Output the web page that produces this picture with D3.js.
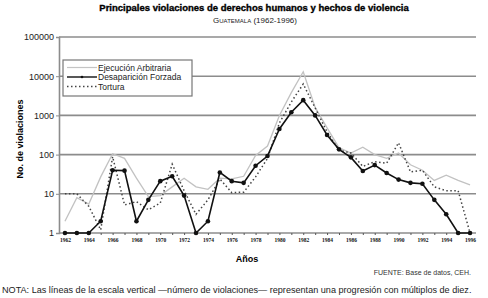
<!DOCTYPE html>
<html>
<head>
<meta charset="utf-8">
<script src="https://cdn.jsdelivr.net/npm/d3@7/dist/d3.min.js"></script>
<style>
  body { margin: 0; background: #fff; }
  svg { font-family: "Liberation Sans", Arial, sans-serif; }
</style>
</head>
<body>
<div id="chart"></div>
<script>
var years = d3.range(1962, 1997);
var tickYears = d3.range(1962, 1997, 2);
var yTicks = [1, 10, 100, 1000, 10000, 100000];

var ejecucion = [2, 8, 5.5, 27, 105, 80, 25, 8.5, 9, 15, 25, 15, 13, 25, 24, 28, 95, 165,
  1000, 3800, 13000, 1600, 480, 150, 110, 155, 100, 80, 110, 55, 40, 22, 30, 22, 17];
var desaparicion = [1, 1, 1, 2, 40, 39, 2, 7, 21, 28, 9, 1, 2, 35, 21, 19, 52, 92,
  450, 1200, 2450, 1000, 316, 136, 85, 38, 54, 34, 23, 19, 18, 7, 3, 1, 1];
var tortura = [10, 10, 4.8, 1.2, 88, 5.2, 6.3, 3.9, 5.8, 57, 12, 3, 7, 24, 10.7, 11, 27, 80,
  640, 2200, 6300, 1550, 380, 130, 110, 50, 66, 60, 200, 36, 40, 15, 12, 12, 1];

var seriesNames = ["Ejecución Arbitraria", "Desaparición Forzada", "Tortura"];

var width = 488, height = 298;
var margin = {left: 59, right: 12, top: 37, bottom: 65};

var svg = d3.select("#chart").append("svg")
  .attr("width", width)
  .attr("height", height);

var x = d3.scaleLinear().domain([1961.5, 1996.5]).range([margin.left, width - margin.right]);
var y = d3.scaleLog().domain([1, 100000]).range([height - margin.bottom, margin.top]);

// titles
svg.append("text")
  .attr("x", 254).attr("y", 11)
  .attr("text-anchor", "middle")
  .style("font-size", "9.5px").style("font-weight", "bold")
  .attr("stroke", "#000").attr("stroke-width", 0.35)
  .text("Principales violaciones de derechos humanos y hechos de violencia");

var sub = svg.append("text")
  .attr("x", 255).attr("y", 23)
  .attr("text-anchor", "middle")
  .style("font-size", "8px").attr("fill", "#222");
sub.append("tspan").text("G");
sub.append("tspan").style("font-size", "6px").text("UATEMALA");
sub.append("tspan").text(" (1962-1996)");

// grid lines
svg.append("g").selectAll("line")
  .data(yTicks)
  .enter().append("line")
  .attr("x1", margin.left).attr("x2", width - margin.right)
  .attr("y1", function(d) { return y(d); })
  .attr("y2", function(d) { return y(d); })
  .attr("stroke", "#8c8c8c")
  .attr("stroke-width", 1.6);

// y axis
var yaxis = d3.axisLeft(y)
  .tickValues(yTicks)
  .tickFormat(d3.format("d"))
  .tickSize(3).tickPadding(2);

var gy = svg.append("g")
  .attr("transform", "translate(" + margin.left + ",0)")
  .call(yaxis);
gy.select(".domain").attr("stroke", "#8c8c8c").attr("stroke-width", 1.6);
gy.selectAll(".tick line").attr("stroke", "#8c8c8c");
gy.selectAll("text").style("font-size", "9px").attr("fill", "#222").attr("font-family", "\"Liberation Sans\", Arial, sans-serif");

// x axis
var xaxis = d3.axisBottom(x)
  .tickValues(years)
  .tickFormat(function(d) { return d % 2 === 0 ? d : ""; })
  .tickSize(2).tickPadding(3);

var gx = svg.append("g")
  .attr("transform", "translate(0," + y(1) + ")")
  .call(xaxis);
gx.select(".domain").remove();
gx.selectAll(".tick line").attr("stroke", "#555");
gx.selectAll("text")
  .attr("font-family", "\"Liberation Serif\", serif")
  .style("font-size", "5.5px").style("font-weight", "bold").attr("fill", "#111");

// axis titles
svg.append("text")
  .attr("x", 247).attr("y", 262)
  .attr("text-anchor", "middle")
  .style("font-size", "9px").style("font-weight", "bold")
  .text("Años");

svg.append("text")
  .attr("transform", "translate(23," + 139 + ") rotate(-90)")
  .attr("text-anchor", "middle")
  .style("font-size", "9px").style("font-weight", "bold")
  .text("No. de violaciones");

// lines
var line = d3.line()
  .x(function(d, i) { return x(years[i]); })
  .y(function(d) { return y(d); });

svg.append("path")
  .datum(ejecucion)
  .attr("fill", "none")
  .attr("stroke", "#c2c2c2")
  .attr("stroke-width", 1.3)
  .attr("d", line);

svg.append("path")
  .datum(tortura)
  .attr("fill", "none")
  .attr("stroke", "#444")
  .attr("stroke-width", 1.5)
  .attr("stroke-dasharray", "1.5,2.5")
  .attr("d", line);

svg.append("path")
  .datum(desaparicion)
  .attr("fill", "none")
  .attr("stroke", "#111")
  .attr("stroke-width", 1.6)
  .attr("d", line);

svg.append("g").selectAll("circle")
  .data(desaparicion)
  .enter().append("circle")
  .attr("cx", function(d, i) { return x(years[i]); })
  .attr("cy", function(d) { return y(d); })
  .attr("r", 2.3)
  .attr("fill", "#111");

// legend
var legend = svg.append("g").attr("class", "legend");
legend.append("rect")
  .attr("x", 63).attr("y", 60)
  .attr("width", 129).attr("height", 36)
  .attr("fill", "#fff")
  .attr("stroke", "#777")
  .attr("stroke-width", 1.2);

var legStyles = [
  {stroke: "#c4c4c4", dash: null, width: 1.2, dot: false},
  {stroke: "#111", dash: null, width: 1.4, dot: true},
  {stroke: "#444", dash: "1.5,2.5", width: 1.5, dot: false}
];

legend.selectAll("g")
  .data(seriesNames)
  .enter().append("g")
  .each(function(d, i) {
    var g = d3.select(this);
    var ly = 67.5 + i * 9.5;
    var st = legStyles[i];
    g.append("line")
      .attr("x1", 67).attr("x2", 97)
      .attr("y1", ly).attr("y2", ly)
      .attr("stroke", st.stroke)
      .attr("stroke-width", st.width)
      .attr("stroke-dasharray", st.dash);
    if (st.dot) {
      g.append("circle").attr("cx", 82).attr("cy", ly).attr("r", 1.3).attr("fill", "#111");
    }
    g.append("text")
      .attr("x", 98).attr("y", ly + 3)
      .style("font-size", "8.5px").attr("fill", "#222")
      .text(d);
  });

// notes
svg.append("text")
  .attr("x", 471).attr("y", 275)
  .attr("text-anchor", "end")
  .style("font-size", "7px").attr("fill", "#333")
  .text("FUENTE: Base de datos, CEH.");

svg.append("text")
  .attr("x", 2).attr("y", 293)
  .style("font-size", "9.1px").attr("fill", "#222")
  .text("NOTA: Las líneas de la escala vertical —número de violaciones— representan una progresión con múltiplos de diez.");
</script>
</body>
</html>
